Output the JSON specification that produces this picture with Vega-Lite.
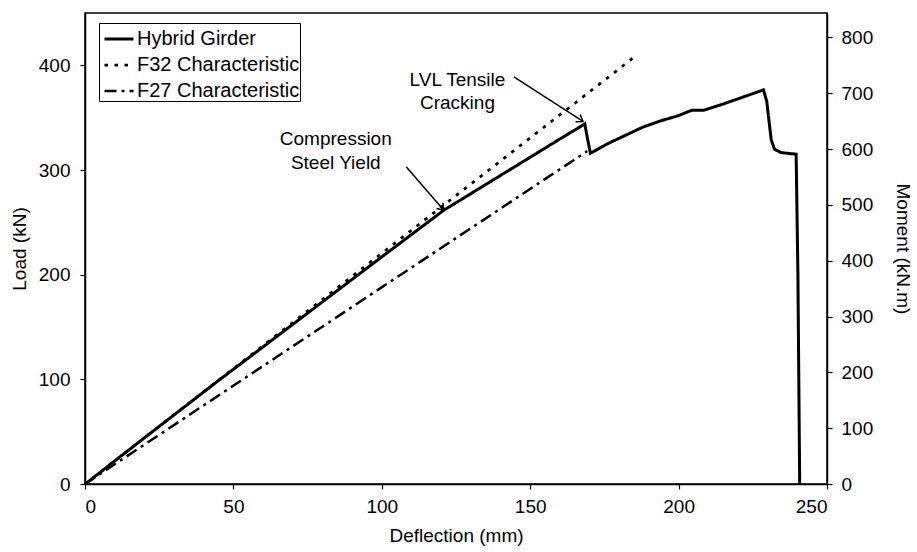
{
  "$schema": "https://vega.github.io/schema/vega-lite/v6.json",
  "width": 742,
  "height": 471,
  "autosize": {"type": "none"},
  "padding": {"left": 85, "top": 13, "right": 90, "bottom": 68},
  "background": "white",
  "config": {
    "font": "Liberation Sans",
    "view": {"stroke": "black", "strokeWidth": 1.5},
    "axis": {
      "domainColor": "black", "domainWidth": 1.5, "tickColor": "black", "tickWidth": 1.2, "tickSize": 5,
      "labelColor": "black", "labelFontSize": 19, "titleFontSize": 19, "titleFontWeight": "normal",
      "titleColor": "black", "grid": false, "labelFont": "Liberation Sans", "titleFont": "Liberation Sans"
    },
    "legend": {
      "orient": "none", "legendX": 14, "legendY": 10, "strokeColor": "black", "strokeWidth": 1,
      "fillColor": "white", "padding": 0, "labelFontSize": 20, "labelFont": "Liberation Sans", "labelColor": "black",
      "labelLimit": 400,
      "symbolType": "stroke", "symbolSize": 841, "symbolStrokeWidth": 2.2, "symbolStrokeColor": "black",
      "symbolOffset": 4, "labelOffset": 2, "rowPadding": -5, "title": null
    },
    "text": {"font": "Liberation Sans"}
  },
  "datasets": {
    "curves": [
      {"series": "Hybrid Girder", "deflection": 0, "load": 0},
      {"series": "Hybrid Girder", "deflection": 1, "load": 2},
      {"series": "Hybrid Girder", "deflection": 10, "load": 22},
      {"series": "Hybrid Girder", "deflection": 20, "load": 44},
      {"series": "Hybrid Girder", "deflection": 30, "load": 66},
      {"series": "Hybrid Girder", "deflection": 44.6, "load": 98},
      {"series": "Hybrid Girder", "deflection": 60, "load": 131},
      {"series": "Hybrid Girder", "deflection": 80, "load": 174},
      {"series": "Hybrid Girder", "deflection": 100, "load": 217},
      {"series": "Hybrid Girder", "deflection": 120.9, "load": 261.6},
      {"series": "Hybrid Girder", "deflection": 130, "load": 277.4},
      {"series": "Hybrid Girder", "deflection": 140, "load": 294.8},
      {"series": "Hybrid Girder", "deflection": 150, "load": 312.2},
      {"series": "Hybrid Girder", "deflection": 160, "load": 329.6},
      {"series": "Hybrid Girder", "deflection": 168.4, "load": 344},
      {"series": "Hybrid Girder", "deflection": 169.3, "load": 330},
      {"series": "Hybrid Girder", "deflection": 170.3, "load": 316},
      {"series": "Hybrid Girder", "deflection": 176, "load": 325},
      {"series": "Hybrid Girder", "deflection": 182, "load": 333},
      {"series": "Hybrid Girder", "deflection": 188, "load": 341},
      {"series": "Hybrid Girder", "deflection": 194, "load": 347},
      {"series": "Hybrid Girder", "deflection": 200, "load": 352},
      {"series": "Hybrid Girder", "deflection": 204.4, "load": 357},
      {"series": "Hybrid Girder", "deflection": 208.4, "load": 357},
      {"series": "Hybrid Girder", "deflection": 215, "load": 363},
      {"series": "Hybrid Girder", "deflection": 222, "load": 370},
      {"series": "Hybrid Girder", "deflection": 228.6, "load": 376.6},
      {"series": "Hybrid Girder", "deflection": 229.7, "load": 365.5},
      {"series": "Hybrid Girder", "deflection": 231.2, "load": 328.8},
      {"series": "Hybrid Girder", "deflection": 232.3, "load": 319.8},
      {"series": "Hybrid Girder", "deflection": 234.6, "load": 316.6},
      {"series": "Hybrid Girder", "deflection": 239.6, "load": 315.1},
      {"series": "Hybrid Girder", "deflection": 240.2, "load": 200},
      {"series": "Hybrid Girder", "deflection": 240.8, "load": 0},
      {"series": "F32 Characteristic", "deflection": 0, "load": 0},
      {"series": "F32 Characteristic", "deflection": 186, "load": 410},
      {"series": "F27 Characteristic", "deflection": 0, "load": 0},
      {"series": "F27 Characteristic", "deflection": 169.2, "load": 318}
    ],
    "notes": [
      {"label": "Compression", "deflection": 84.5, "load": 329.5},
      {"label": "Steel Yield", "deflection": 84.5, "load": 307},
      {"label": "LVL Tensile", "deflection": 125.5, "load": 385.8},
      {"label": "Cracking", "deflection": 125.5, "load": 363.8}
    ],
    "arrows": [
      {"arrow": "yield", "deflection": 108.2, "load": 303, "deflection2": 120.9, "load2": 261.6},
      {"arrow": "crack", "deflection": 144.5, "load": 389, "deflection2": 167.8, "load2": 346.4}
    ],
    "moment": [{"moment": 0}, {"moment": 843.75}]
  },
  "layer": [
    {
      "encoding": {
        "x": {"field": "deflection", "type": "quantitative", "scale": {"domain": [0, 250], "nice": false},
              "axis": {"values": [0, 50, 100, 150, 200, 250], "title": "Deflection (mm)", "labelPadding": 8, "titlePadding": 10}},
        "y": {"field": "load", "type": "quantitative", "scale": {"domain": [0, 450], "nice": false},
              "axis": {"values": [0, 100, 200, 300, 400], "title": "Load (kN)", "labelPadding": 10, "titlePadding": 9}}
      },
      "layer": [
        {
          "data": {"name": "curves"},
          "mark": {"type": "line", "color": "black"},
          "encoding": {
            "strokeDash": {"field": "series", "type": "nominal",
              "scale": {"domain": ["Hybrid Girder", "F32 Characteristic", "F27 Characteristic"], "range": [[1, 0], [3.5, 6.5], [12, 5, 3, 5]]},
              "legend": {}},
            "strokeWidth": {"field": "series", "type": "nominal",
              "scale": {"domain": ["Hybrid Girder", "F32 Characteristic", "F27 Characteristic"], "range": [3, 2.5, 2]},
              "legend": null}
          }
        },
        {
          "data": {"name": "notes"},
          "mark": {"type": "text", "fontSize": 19, "color": "black", "align": "center", "baseline": "middle"},
          "encoding": {"text": {"field": "label"}}
        },
        {
          "data": {"name": "arrows"},
          "mark": {"type": "rule", "color": "black", "strokeWidth": 1.5},
          "encoding": {"x2": {"field": "deflection2"}, "y2": {"field": "load2"}}
        },
        {
          "data": {"name": "arrows"},
          "transform": [{"filter": "datum.arrow == 'yield'"}],
          "mark": {"type": "point", "shape": "M-1,-0.7L0,0L-1,0.7", "filled": false, "stroke": "black", "strokeWidth": 1.5, "size": 150, "angle": 48.5, "opacity": 1},
          "encoding": {"x": {"field": "deflection2", "type": "quantitative"}, "y": {"field": "load2", "type": "quantitative"}}
        },
        {
          "data": {"name": "arrows"},
          "transform": [{"filter": "datum.arrow == 'crack'"}],
          "mark": {"type": "point", "shape": "M-1,-0.7L0,0L-1,0.7", "filled": false, "stroke": "black", "strokeWidth": 1.5, "size": 150, "angle": 32.3, "opacity": 1},
          "encoding": {"x": {"field": "deflection2", "type": "quantitative"}, "y": {"field": "load2", "type": "quantitative"}}
        }
      ]
    },
    {
      "data": {"name": "moment"},
      "mark": {"type": "point", "opacity": 0},
      "encoding": {
        "y": {"field": "moment", "type": "quantitative", "scale": {"domain": [0, 843.75], "nice": false},
              "axis": {"orient": "right", "values": [0, 100, 200, 300, 400, 500, 600, 700, 800], "title": "Moment (kN.m)", "labelPadding": 9, "titlePadding": 20}}
      }
    }
  ],
  "resolve": {"scale": {"y": "independent"}}
}
